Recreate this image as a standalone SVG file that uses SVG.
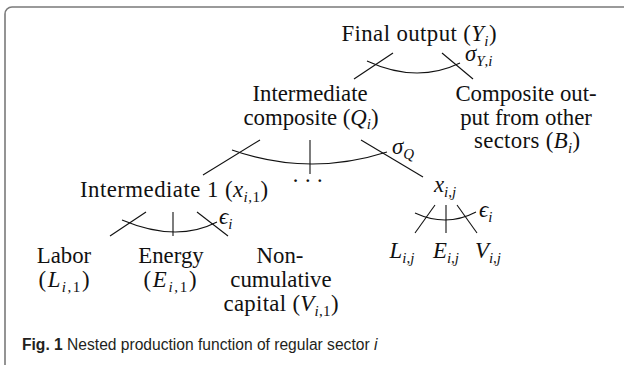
<svg xmlns="http://www.w3.org/2000/svg" width="624" height="367" viewBox="0 0 624 367">
<style>
.t{font-family:"Liberation Serif","Times New Roman",serif;font-size:22.8px;fill:#111;text-anchor:middle}
.m{font-style:italic}
.s{font-size:15px}
.l{font-family:"Liberation Serif","Times New Roman",serif;font-size:22.8px;fill:#111}
.e{stroke:#111;stroke-width:1.1;fill:none}
.cap{font-family:"Liberation Sans",Arial,sans-serif;font-size:15.6px;fill:#231f20}
</style>
<rect width="624" height="367" fill="#fff"/>
<path d="M624,7 H12 A7,7 0 0 0 5,14 V365" fill="none" stroke="#7a7a7a" stroke-width="1.6"/>
<g id="connectors">
<line class="e" x1="393" y1="53" x2="354" y2="79"/>
<line class="e" x1="442" y1="53" x2="473" y2="79"/>
<path class="e" d="M367,61 Q416.5,84 460,63"/>
<line class="e" x1="260" y1="140" x2="203" y2="175"/>
<line class="e" x1="310" y1="140" x2="310" y2="174"/>
<line class="e" x1="361" y1="140" x2="423" y2="177"/>
<path class="e" d="M232,150 Q308.5,177 387,152"/>
<line class="e" x1="146" y1="212" x2="110" y2="236"/>
<line class="e" x1="173" y1="212" x2="173" y2="236"/>
<line class="e" x1="197" y1="212" x2="228" y2="236"/>
<path class="e" d="M122,220 Q176.5,243 217,222"/>
<line class="e" x1="435" y1="205" x2="415" y2="233"/>
<line class="e" x1="446" y1="205" x2="446" y2="233"/>
<line class="e" x1="457" y1="205" x2="477" y2="233"/>
<path class="e" d="M415,213 Q446.5,227.5 476,212"/>
<text class="l" x="465" y="61"><tspan class="m">σ</tspan><tspan class="s m" dy="5">Y</tspan><tspan class="s">,</tspan><tspan class="s m">i</tspan></text>
<text class="l" x="392" y="154"><tspan class="m">σ</tspan><tspan class="s m" dy="5">Q</tspan></text>
<text class="l" x="219" y="224"><tspan class="m">ϵ</tspan><tspan class="s m" dy="5">i</tspan></text>
<text class="l" x="479" y="217"><tspan class="m">ϵ</tspan><tspan class="s m" dy="5">i</tspan></text>
</g>
<g id="final">
<text class="t" x="419" y="41" textLength="155">Final output (<tspan class="m">Y</tspan><tspan class="s m" dy="4.5">i</tspan><tspan dy="-4.5">)</tspan></text>
</g>
<g id="intermediate-composite">
<text class="t" x="310" y="101">Intermediate</text>
<text class="t" x="311" y="124.5" textLength="135">composite (<tspan class="m">Q</tspan><tspan class="s m" dy="4.5">i</tspan><tspan dy="-4.5">)</tspan></text>
</g>
<g id="composite-output">
<text class="t" x="526" y="101">Composite out-</text>
<text class="t" x="526" y="124.5">put from other</text>
<text class="t" x="527" y="148" textLength="106">sectors (<tspan class="m">B</tspan><tspan class="s m" dy="4.5">i</tspan><tspan dy="-4.5">)</tspan></text>
</g>
<g id="dots">
<text class="t" x="310" y="188" style="letter-spacing:4.5px">···</text>
</g>
<g id="intermediate1">
<text class="t" x="174" y="197" textLength="188">Intermediate 1 (<tspan class="m">x</tspan><tspan class="s" dy="4.5"><tspan class="m">i</tspan>,1</tspan><tspan dy="-4.5">)</tspan></text>
</g>
<g id="xij">
<text class="t" x="445" y="192"><tspan class="m">x</tspan><tspan class="s" dy="4.5"><tspan class="m">i</tspan>,<tspan class="m">j</tspan></tspan></text>
</g>
<g id="labor">
<text class="t" x="64" y="263">Labor</text>
<text class="t" x="64" y="287" textLength="51">(<tspan class="m">L</tspan><tspan class="s" dy="4.5"><tspan class="m">i</tspan>,1</tspan><tspan dy="-4.5">)</tspan></text>
</g>
<g id="energy">
<text class="t" x="171" y="263">Energy</text>
<text class="t" x="170" y="287" textLength="53">(<tspan class="m">E</tspan><tspan class="s" dy="4.5"><tspan class="m">i</tspan>,1</tspan><tspan dy="-4.5">)</tspan></text>
</g>
<g id="noncumulative">
<text class="t" x="280" y="263">Non-</text>
<text class="t" x="281" y="287">cumulative</text>
<text class="t" x="281" y="311" textLength="115">capital (<tspan class="m">V</tspan><tspan class="s" dy="4.5"><tspan class="m">i</tspan>,1</tspan><tspan dy="-4.5">)</tspan></text>
</g>
<g id="lij">
<text class="t" x="402" y="258"><tspan class="m">L</tspan><tspan class="s" dy="4.5"><tspan class="m">i</tspan>,<tspan class="m">j</tspan></tspan></text>
</g>
<g id="eij">
<text class="t" x="446" y="258"><tspan class="m">E</tspan><tspan class="s" dy="4.5"><tspan class="m">i</tspan>,<tspan class="m">j</tspan></tspan></text>
</g>
<g id="vij">
<text class="t" x="488" y="258"><tspan class="m">V</tspan><tspan class="s" dy="4.5"><tspan class="m">i</tspan>,<tspan class="m">j</tspan></tspan></text>
</g>
<g id="caption">
<text class="cap" x="22" y="350"><tspan font-weight="bold">Fig. 1</tspan> Nested production function of regular sector <tspan font-style="italic">i</tspan></text>
</g>
</svg>
